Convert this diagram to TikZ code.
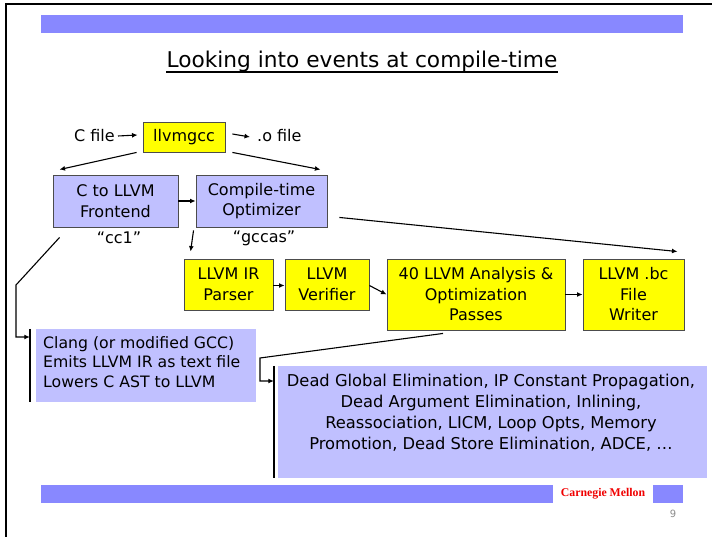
\documentclass[tikz,border=0pt]{standalone}
\usepackage{fontspec}
\setmainfont{DejaVu Sans}
\newfontfamily\cmufont{Liberation Serif}
\usetikzlibrary{arrows.meta,calc}
\definecolor{barblue}{RGB}{136,136,255}
\definecolor{boxblue}{RGB}{192,192,255}
\definecolor{boxyellow}{RGB}{255,255,0}
\definecolor{cmured}{RGB}{240,0,0}
\begin{document}
\begin{tikzpicture}[x=1pt,y=-1pt,
  boxtext/.style={font=\fontsize{16}{20.5}\selectfont},
  ybox/.style={draw=black!70, line width=0.9pt, fill=boxyellow, inner sep=0pt, align=center, boxtext},
  bbox/.style={draw=black!70, line width=0.9pt, fill=boxblue, inner sep=0pt, align=center, boxtext},
  callout/.style={fill=boxblue, inner sep=0pt},
  lbl/.style={inner sep=0pt, boxtext},
  arr/.style={-{Latex[length=5.5pt,width=5pt]}, line width=1.1pt},
  bracket/.style={line width=1.6pt}
]
\useasboundingbox (0,0) rectangle (712,537);
\fill[white] (0,0) rectangle (712,537);
% slide frame
\draw[line width=2.2pt] (6,537) -- (6,4.3) -- (712,4.3);
% bars
\fill[barblue] (41,15) rectangle (683,33);
\fill[barblue] (41,485) rectangle (553,503);
\fill[barblue] (653,485) rectangle (683,503);
% title
\node[inner sep=0pt, anchor=base, font=\fontsize{21.7}{26}\selectfont] (title) at (362,68) {Looking into events at compile-time};
\draw[line width=1.5pt] ([yshift=-4pt]title.base west) -- ([yshift=-4pt]title.base east);
% footer
\node[inner sep=0pt, font=\cmufont\bfseries\fontsize{11.8}{14}\selectfont, text=cmured] (cmu) at (603,494) {Carnegie Mellon};
\node[inner sep=0pt, font=\fontsize{10}{12}\selectfont, text=black!45] (pg) at (673,514) {9};

% top row
\node[ybox, minimum width=82pt, minimum height=30pt] (llvmgcc) at (184,137) {llvmgcc};
\node[lbl, anchor=east] (cfile) at (115,136) {C file};
\node[lbl, anchor=west] (ofile) at (257,136) {.o file};
\draw[arr] (cfile.east) ++(3pt,0) -- ([xshift=-5pt,yshift=2pt]llvmgcc.west);
\draw[arr] ([xshift=7pt,yshift=3pt]llvmgcc.east) -- ([xshift=-7pt]ofile.west |- llvmgcc.east) ;

% second row
\node[bbox, minimum width=125pt, minimum height=52pt] (frontend) at (115.5,201) {C to LLVM\\Frontend};
\node[bbox, minimum width=131pt, minimum height=52pt] (optimizer) at (261.5,201) {Compile-time\\Optimizer};
\node[lbl] (cc1) at (119,238) {“cc1”};
\node[lbl] (gccas) at (264,238) {“gccas”};
\draw[arr] ([xshift=-6pt]llvmgcc.south west) -- ([xshift=7pt,yshift=5pt]frontend.north west);
\draw[arr] ([xshift=7pt]llvmgcc.south east) -- ([xshift=-7pt,yshift=5pt]optimizer.north east);
\draw[arr] (frontend.east) -- (optimizer.west);

% third row
\node[ybox, minimum width=89pt, minimum height=51pt] (parser) at (228.5,284.5) {LLVM IR\\Parser};
\node[ybox, minimum width=84pt, minimum height=51pt] (verifier) at (327,284.5) {LLVM\\Verifier};
\node[ybox, minimum width=178pt, minimum height=71pt] (passes) at (476,294.5) {40 LLVM Analysis \&\\Optimization\\Passes};
\node[ybox, minimum width=101pt, minimum height=71pt] (writer) at (633.5,294.5) {LLVM .bc\\File\\Writer};
\draw[arr] ([xshift=-2pt,yshift=-3pt]optimizer.south west) -- ([xshift=7pt,yshift=7pt]parser.north west);
\draw[arr] ([xshift=12pt,yshift=10pt]optimizer.south east) -- ([xshift=-7pt,yshift=7pt]writer.north east);
\draw[arr] ([yshift=-1pt]parser.east) -- ([yshift=-1pt]verifier.west);
\draw[arr] ([yshift=-1pt]verifier.east) -- (passes.west);
\draw[arr] (passes.east) -- (writer.west);

% callouts
\node[callout, minimum width=220pt, minimum height=73pt] (clang) at (146,365.5) {};
\node[lbl, anchor=west, align=left, font=\fontsize{15.7}{19.5}\selectfont] (clangtxt) at (43,362) {Clang (or modified GCC)\\Emits LLVM IR as text file\\Lowers C AST to LLVM};
\draw[bracket] ([xshift=-6pt]clang.north west) -- ([xshift=-6pt]clang.south west);
\coordinate (fbend1) at (16,285);
\coordinate (fbend2) at (16,337);
\draw[arr] ([xshift=7pt,yshift=-10pt]frontend.south west) -- (fbend1) -- (fbend2) -- ([xshift=-6pt]fbend2 -| clang.west);

\node[callout, minimum width=429pt, minimum height=112pt] (passlist) at (492.5,422) {};
\node[lbl, align=center, font=\fontsize{16.3}{21}\selectfont] (passtxt) at (491,413) {Dead Global Elimination, IP Constant Propagation,\\Dead Argument Elimination, Inlining,\\Reassociation, LICM, Loop Opts, Memory\\Promotion, Dead Store Elimination, ADCE, …};
\draw[bracket] ([xshift=-4pt]passlist.north west) -- ([xshift=-4pt]passlist.south west);
\coordinate (pbend1) at (260,358);
\coordinate (pbend2) at (260,381);
\draw[arr] ([xshift=-33pt,yshift=-3pt]passes.south) -- (pbend1) -- (pbend2) -- ([xshift=-4pt]pbend2 -| passlist.west);
\end{tikzpicture}
\end{document}
